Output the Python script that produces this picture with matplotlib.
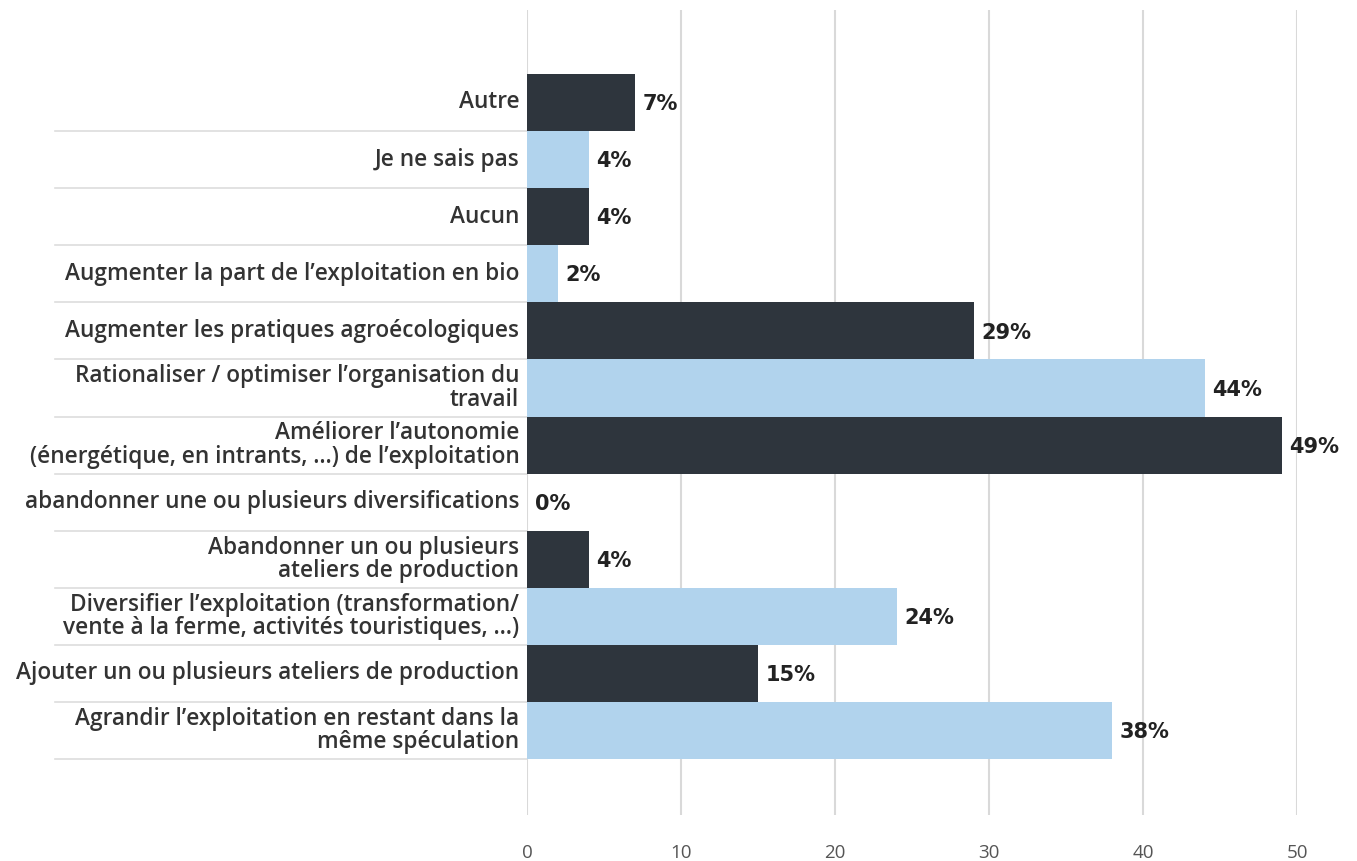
import matplotlib
matplotlib.use("Agg")
import matplotlib.pyplot as plt
from matplotlib.transforms import blended_transform_factory

# categories, top to bottom
labels = [
    "Autre",
    "Je ne sais pas",
    "Aucun",
    "Augmenter la part de l’exploitation en bio",
    "Augmenter les pratiques agroécologiques",
    "Rationaliser / optimiser l’organisation du\ntravail",
    "Améliorer l’autonomie\n(énergétique, en intrants, …) de l’exploitation",
    "abandonner une ou plusieurs diversifications",
    "Abandonner un ou plusieurs\nateliers de production",
    "Diversifier l’exploitation (transformation/\nvente à la ferme, activités touristiques, …)",
    "Ajouter un ou plusieurs ateliers de production",
    "Agrandir l’exploitation en restant dans la\nmême spéculation",
]
values = [7, 4, 4, 2, 29, 44, 49, 0, 4, 24, 15, 38]
ticks = [0, 10, 20, 30, 40, 50]

DARK = "#2e353d"
LIGHT = "#b1d3ed"
GRID = "#d9d9d9"
TEXT = "#333333"

fig = plt.figure(figsize=(13.57, 8.61), dpi=100)
ax = fig.add_axes([0.3884, 0.0534, 0.5674, 0.9350])

n = len(labels)
ypos = [n - 1 - i for i in range(n)]
colors = [DARK if i % 2 == 0 else LIGHT for i in range(n)]

ax.barh(ypos, values, height=1.0, color=colors, zorder=3)

for y, v in zip(ypos, values):
    ax.text(v + 0.5, y - 0.03, f"{v}%", ha="left", va="center",
            fontsize=15, fontweight="bold", family="DejaVu Sans",
            color="#222222", zorder=4)

ax.set_xlim(0, 50)
ax.set_ylim(-1.48, n - 0.5 + 1.12)
ax.set_xticks(ticks)
ax.set_xticklabels([str(t) for t in ticks], family="Open Sans",
                   fontsize=13.5, color="#555555")
ax.tick_params(axis="x", length=0, pad=21)
ax.set_yticks([])
ax.grid(axis="x", color=GRID, linewidth=1.5, zorder=0)
for s in ax.spines.values():
    s.set_visible(False)

# category labels and separator lines in the left margin
trans = blended_transform_factory(fig.transFigure, ax.transData)
x0 = 55 / 1357
x1 = ax.get_position().x0
for y, lab in zip(ypos, labels):
    ax.text(-0.5, y, lab, ha="right", va="center", fontsize=16.3,
            family="Open Sans", fontweight="semibold", color=TEXT,
            linespacing=0.95, zorder=4)
    if y < n - 1:
        ax.plot([x0, x1], [y + 0.5, y + 0.5], transform=trans,
                color="#dddddd", linewidth=1.2, clip_on=False, zorder=2)
ax.plot([x0, x1], [-0.5, -0.5], transform=trans,
        color="#dddddd", linewidth=1.2, clip_on=False, zorder=2)

fig.savefig("out.png", dpi=100)
